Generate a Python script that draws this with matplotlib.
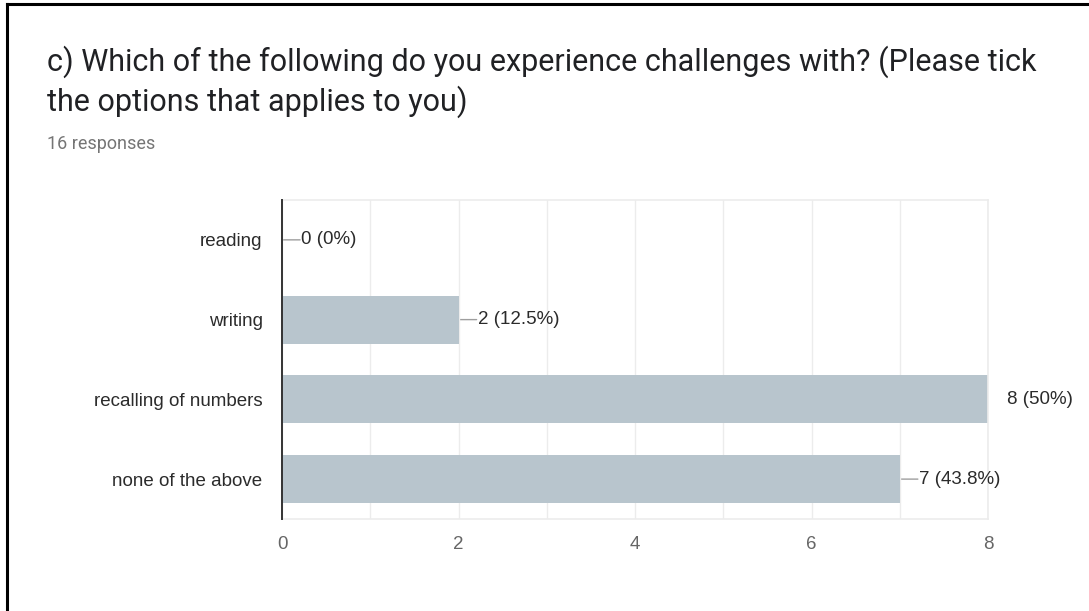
# =========================================================
# Survey chart: challenges experienced (horizontal bars)
# =========================================================

import matplotlib
matplotlib.use("Agg")
import matplotlib.pyplot as plt
from matplotlib.ticker import MultipleLocator


# =========================================================
# Data
# =========================================================

categories = [
    "reading",
    "writing",
    "recalling of numbers",
    "none of the above",
]

counts = [0, 2, 8, 7]

percent_labels = ["0%", "12.5%", "50%", "43.8%"]

total_responses = 16

question = (
    "c) Which of the following do you experience challenges with? (Please tick\n"
    "the options that applies to you)"
)

x_ticks = [0, 2, 4, 6, 8]


# =========================================================
# Styles
# =========================================================

BAR_COLOR = "#b8c5cd"
GRID_COLOR = "#ececec"
TEXT_COLOR = "#2b2b2b"
TICK_COLOR = "#666666"
LEADER_COLOR = "#9e9e9e"


# =========================================================
# Figure
# =========================================================

fig = plt.figure(figsize=(10.89, 6.11), dpi=100)
fig.patch.set_facecolor("white")

# frame line along left and top edges
fig.add_artist(plt.Line2D([0.0064, 0.0064], [0, 0.9935],
                          transform=fig.transFigure, color="black", lw=2.2))
fig.add_artist(plt.Line2D([0.0064, 1.0], [0.9935, 0.9935],
                          transform=fig.transFigure, color="black", lw=2.2))

fig.text(0.043, 0.866, question, fontsize=22, family="Roboto",
         color="#202124", va="center", ha="left", linespacing=1.3)

fig.text(0.043, 0.765, f"{total_responses} responses", fontsize=13,
         family="Roboto", color="#757575", va="center", ha="left")

ax = fig.add_axes([0.259, 0.1506, 0.6483, 0.5221])

positions = list(range(len(categories)))

ax.barh(positions, counts, height=0.6, color=BAR_COLOR, zorder=2)

ax.set_xlim(0, 8)
ax.set_ylim(len(categories) - 0.5, -0.5)

ax.set_yticks(positions)
ax.set_yticklabels(categories, family="Liberation Sans",
                   fontsize=13.5, color=TEXT_COLOR)

ax.set_xticks(x_ticks)
ax.set_xticklabels([str(t) for t in x_ticks], family="Liberation Sans",
                   fontsize=13.5, color=TICK_COLOR)
ax.xaxis.set_minor_locator(MultipleLocator(1))

ax.tick_params(axis="both", which="both", length=0)
ax.tick_params(axis="y", pad=14)
ax.tick_params(axis="x", pad=12)

ax.grid(axis="x", which="both", color=GRID_COLOR, lw=1.0, zorder=0)

for side in ["top", "right", "bottom"]:
    ax.spines[side].set_color(GRID_COLOR)
    ax.spines[side].set_linewidth(1.2)

ax.spines["left"].set_color("#333333")
ax.spines["left"].set_linewidth(1.4)
ax.spines["left"].set_zorder(3)


# =========================================================
# Value labels with short leader lines
# =========================================================

for pos, value, pct in zip(positions, counts, percent_labels):

    leader = ax.annotate(
        "",
        xy=(value, pos),
        xytext=(13, 0),
        textcoords="offset points",
        arrowprops=dict(arrowstyle="-", color=LEADER_COLOR, lw=1.0,
                        shrinkA=0, shrinkB=0),
        annotation_clip=False,
        zorder=1,
    )

    # leader stays inside the plot area
    leader.arrow_patch.set_clip_box(ax.bbox)
    leader.arrow_patch.set_clip_on(True)

    ax.annotate(
        f"{value} ({pct})",
        xy=(value, pos),
        xytext=(14, 0),
        textcoords="offset points",
        va="center",
        ha="left",
        fontsize=13.5,
        family="Liberation Sans",
        color=TEXT_COLOR,
        annotation_clip=False,
    )

fig.savefig("out.png", dpi=100, facecolor="white")
